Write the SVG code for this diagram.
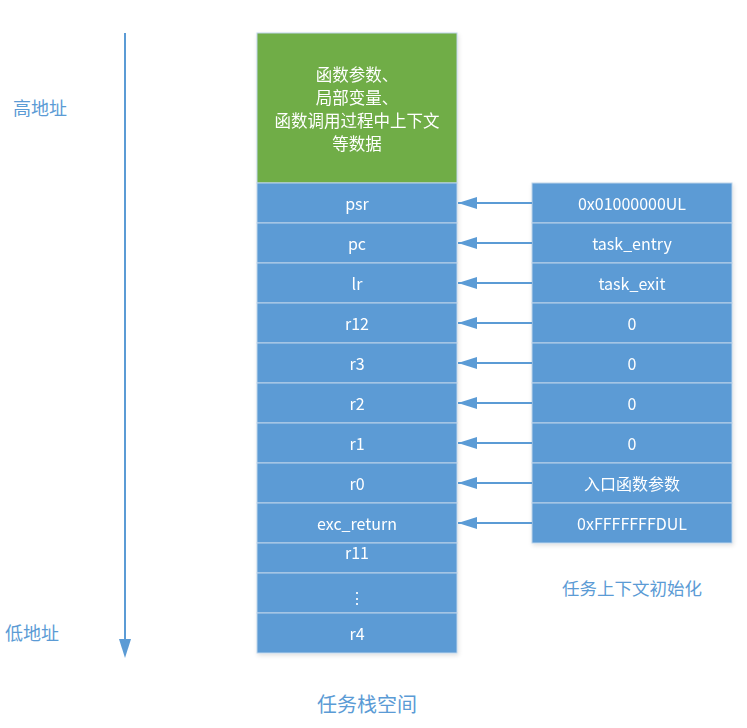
<svg xmlns="http://www.w3.org/2000/svg" width="747" height="728" viewBox="0 0 747 728">
<style>
.cell{fill:#5B9BD5;stroke:#BDD3EA;stroke-width:1}
.green{fill:#70AD47;stroke:#BDD3EA;stroke-width:1}
.t{font-family:"Microsoft YaHei","Noto Sans CJK SC","Liberation Sans",sans-serif;font-size:16px;fill:#fff;text-anchor:middle;dominant-baseline:central}
.g{font-size:16.5px}
.lbl{font-family:"Noto Sans CJK SC","Liberation Sans",sans-serif;fill:#5B9BD5;text-anchor:middle;dominant-baseline:central}
.conn{stroke:#5B9BD5;stroke-width:2;fill:none}
</style>
<defs>
<marker id="ah" markerWidth="19" markerHeight="12" refX="19" refY="6" orient="auto" markerUnits="userSpaceOnUse">
<path d="M0,0 L19,6 L0,12 Z" fill="#5B9BD5"/>
</marker>
<filter id="sh" x="-5%" y="-5%" width="110%" height="110%"><feDropShadow dx="1" dy="2" stdDeviation="2" flood-color="#000" flood-opacity="0.12"/></filter>
</defs>
<g id="addr-axis">
<line x1="125" y1="33" x2="125" y2="640" class="conn"/>
<path d="M119,639 L125,658 L131,639 Z" fill="#5B9BD5"/>
<text class="lbl" x="40" y="107" font-size="18">高地址</text>
<text class="lbl" x="32" y="632" font-size="18">低地址</text>
</g>
<g id="stack" filter="url(#sh)">
<g id="n-data"><rect class="green" x="257" y="33" width="200" height="150"/>
<text class="t g" x="357" y="74">函数参数、</text><text class="t g" x="357" y="97">局部变量、</text><text class="t g" x="357" y="120">函数调用过程中上下文</text><text class="t g" x="357" y="143">等数据</text></g>
<g id="n-psr"><rect class="cell" x="257" y="183" width="200" height="40"/><text class="t" x="357" y="203">psr</text></g>
<g id="n-pc"><rect class="cell" x="257" y="223" width="200" height="40"/><text class="t" x="357" y="243">pc</text></g>
<g id="n-lr"><rect class="cell" x="257" y="263" width="200" height="40"/><text class="t" x="357" y="283">lr</text></g>
<g id="n-r12"><rect class="cell" x="257" y="303" width="200" height="40"/><text class="t" x="357" y="323">r12</text></g>
<g id="n-r3"><rect class="cell" x="257" y="343" width="200" height="40"/><text class="t" x="357" y="363">r3</text></g>
<g id="n-r2"><rect class="cell" x="257" y="383" width="200" height="40"/><text class="t" x="357" y="403">r2</text></g>
<g id="n-r1"><rect class="cell" x="257" y="423" width="200" height="40"/><text class="t" x="357" y="443">r1</text></g>
<g id="n-r0"><rect class="cell" x="257" y="463" width="200" height="40"/><text class="t" x="357" y="483">r0</text></g>
<g id="n-exc"><rect class="cell" x="257" y="503" width="200" height="40"/><text class="t" x="357" y="523">exc_return</text></g>
<g id="n-r11"><rect class="cell" x="257" y="543" width="200" height="30"/><text class="t" x="357" y="552">r11</text></g>
<g id="n-dots"><rect class="cell" x="257" y="573" width="200" height="40"/><text class="t" x="357" y="597">⋮</text></g>
<g id="n-r4"><rect class="cell" x="257" y="613" width="200" height="40"/><text class="t" x="357" y="633">r4</text></g>
</g>
<text class="lbl" x="367" y="703" font-size="20">任务栈空间</text>
<g id="init" filter="url(#sh)">
<g id="v-psr"><rect class="cell" x="532" y="183" width="200" height="40"/><text class="t" x="632" y="203">0x01000000UL</text></g>
<g id="v-pc"><rect class="cell" x="532" y="223" width="200" height="40"/><text class="t" x="632" y="243">task_entry</text></g>
<g id="v-lr"><rect class="cell" x="532" y="263" width="200" height="40"/><text class="t" x="632" y="283">task_exit</text></g>
<g id="v-r12"><rect class="cell" x="532" y="303" width="200" height="40"/><text class="t" x="632" y="323">0</text></g>
<g id="v-r3"><rect class="cell" x="532" y="343" width="200" height="40"/><text class="t" x="632" y="363">0</text></g>
<g id="v-r2"><rect class="cell" x="532" y="383" width="200" height="40"/><text class="t" x="632" y="403">0</text></g>
<g id="v-r1"><rect class="cell" x="532" y="423" width="200" height="40"/><text class="t" x="632" y="443">0</text></g>
<g id="v-r0"><rect class="cell" x="532" y="463" width="200" height="40"/><text class="t" x="632" y="483">入口函数参数</text></g>
<g id="v-exc"><rect class="cell" x="532" y="503" width="200" height="40"/><text class="t" x="632" y="523">0xFFFFFFFDUL</text></g>
</g>
<text class="lbl" x="632" y="587" font-size="17.5">任务上下文初始化</text>
<g id="connectors">
<line class="conn" x1="532" y1="203" x2="458" y2="203" marker-end="url(#ah)"/>
<line class="conn" x1="532" y1="243" x2="458" y2="243" marker-end="url(#ah)"/>
<line class="conn" x1="532" y1="283" x2="458" y2="283" marker-end="url(#ah)"/>
<line class="conn" x1="532" y1="323" x2="458" y2="323" marker-end="url(#ah)"/>
<line class="conn" x1="532" y1="363" x2="458" y2="363" marker-end="url(#ah)"/>
<line class="conn" x1="532" y1="403" x2="458" y2="403" marker-end="url(#ah)"/>
<line class="conn" x1="532" y1="443" x2="458" y2="443" marker-end="url(#ah)"/>
<line class="conn" x1="532" y1="483" x2="458" y2="483" marker-end="url(#ah)"/>
<line class="conn" x1="532" y1="523" x2="458" y2="523" marker-end="url(#ah)"/>
</g>
</svg>
